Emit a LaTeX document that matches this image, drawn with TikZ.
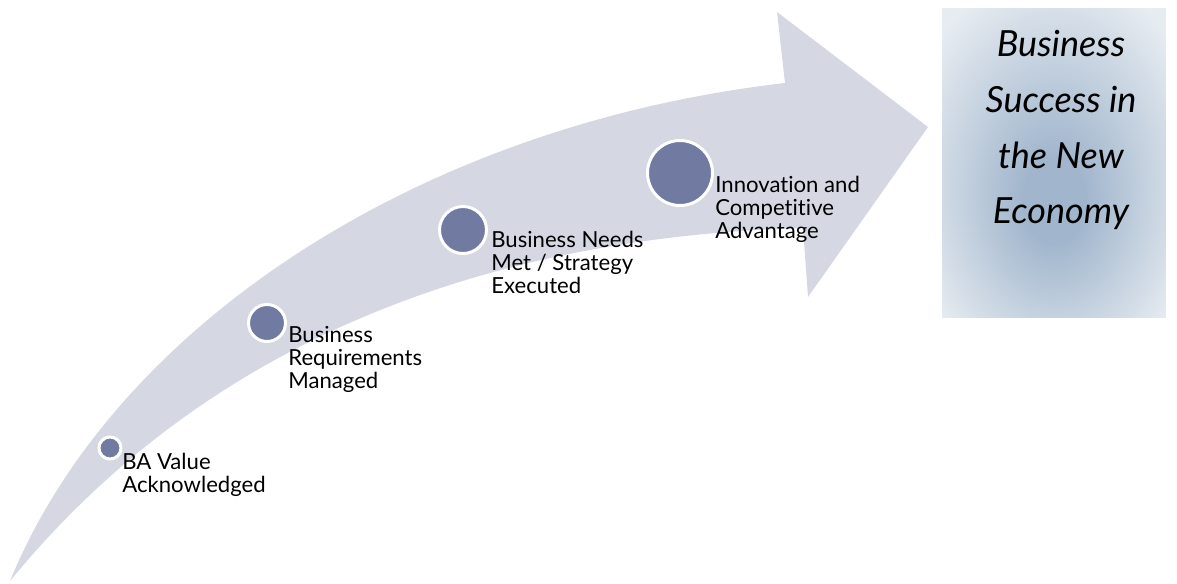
\documentclass[tikz,border=0pt]{standalone}
\usepackage{fontspec}
\setmainfont{Lato}[Ligatures=NoCommon]
\usetikzlibrary{positioning}
\definecolor{bandgray}{HTML}{D5D8E2}
\definecolor{dotblue}{HTML}{717AA0}
\definecolor{glowin}{HTML}{A1B6CD}
\definecolor{glowout}{HTML}{E7ECF1}
\pgfdeclareradialshading{boxglow}{\pgfpoint{0bp}{-7bp}}{color(0bp)=(glowin); color(7bp)=(glowin); color(34bp)=(glowout); color(50bp)=(glowout)}

\begin{document}
\begin{tikzpicture}[x=0.02cm,y=-0.02cm,
	dot/.style={circle,fill=dotblue,draw=white,line width=1.7pt,inner sep=0pt},
	lbl/.style={anchor=north west,align=left,inner sep=0pt,font=\fontsize{12.6}{13}\selectfont}]
		\useasboundingbox (0,0) rectangle (1177,583);
		% curved arrow
		\fill[bandgray] (10,581) .. controls (115,325) and (420,125) .. (785,83)
			-- (777,12) -- (928,127) -- (808,297) -- (803,228)
			.. controls (560,235) and (240,300) .. (10,581) -- cycle;
		% steps
		\node[dot,minimum size=0.44cm] (c1) at (110,448) {};
		\node[dot,minimum size=0.74cm] (c2) at (267,323) {};
		\node[dot,minimum size=0.94cm] (c3) at (463,230) {};
		\node[dot,minimum size=1.30cm] (c4) at (680,173) {};
		\node[lbl] (t1) at (122,453) {BA Value\\Acknowledged};
		\node[lbl] (t2) at (288,326) {Business\\Requirements\\Managed};
		\node[lbl] (t3) at (491,231) {Business Needs\\Met / Strategy\\Executed};
		\node[lbl] (t4) at (715,176) {Innovation and\\Competitive\\Advantage};
		% goal
		\node[shading=boxglow,minimum width=4.48cm,minimum height=6.2cm,inner sep=0pt] (goal) at (1054,163) {};
		\node[anchor=north,align=center,inner sep=0pt,font=\itshape\fontsize{20.5}{31.7}\selectfont] (goaltext) at (1061,30)
			{Business\\Success in\\the New\\Economy};
	\end{tikzpicture}
\end{document}
